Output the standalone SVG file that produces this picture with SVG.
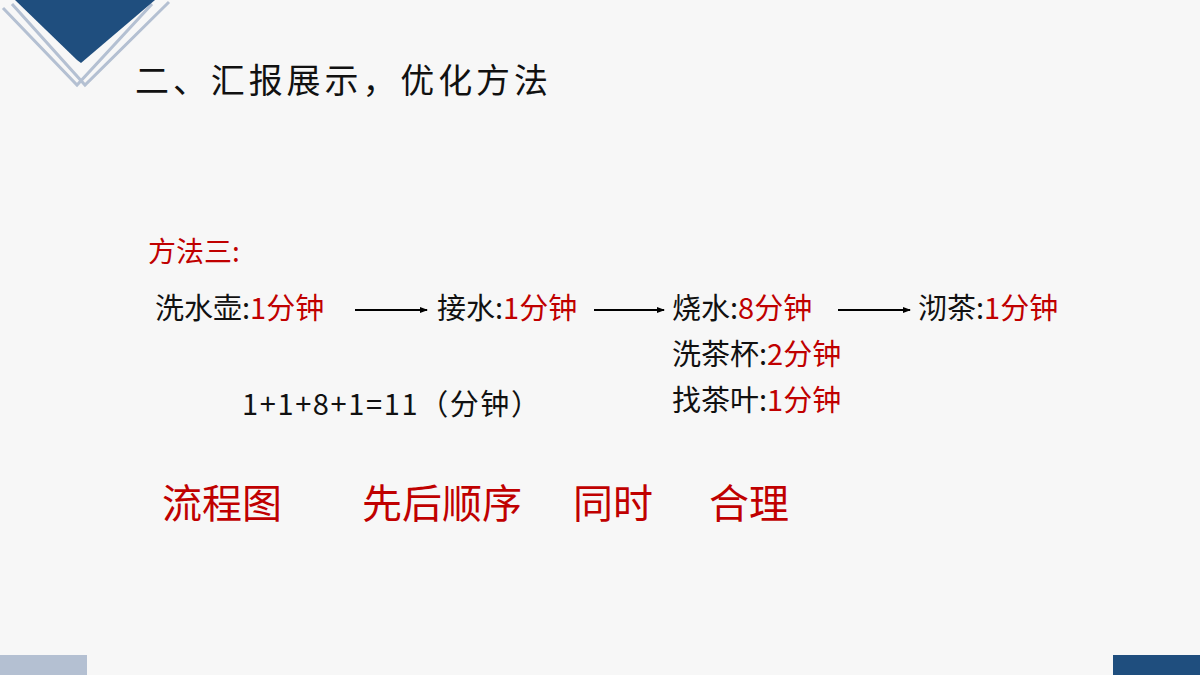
<svg xmlns="http://www.w3.org/2000/svg" width="1200" height="675" viewBox="0 0 1200 675">
<style>
text{font-family:"Noto Sans CJK SC","Liberation Sans",sans-serif;}
.k{fill:#111;font-size:29px}
.r{fill:#c00000}
.big{fill:#c00000;font-size:40px}
.ln{stroke:#b4c0d2;stroke-width:3;fill:none}
</style>
<defs><marker id="a" markerWidth="8" markerHeight="8" refX="7" refY="4" orient="auto" markerUnits="userSpaceOnUse"><path d="M0,1 L8,4 L0,7 Z" fill="#000"/></marker></defs>
<rect width="1200" height="675" fill="#f7f7f7"/>
<g id="deco">
<polyline class="ln" points="3,8 77,85 152,4"/>
<polyline class="ln" points="12,4 85,85 169,2"/>
<polygon points="15,0 155,0 81,63 77,60" fill="#1f4e7e"/>
<rect x="0" y="655" width="87" height="20" fill="#b4c0d2"/>
<rect x="1113" y="655" width="87" height="20" fill="#1f4e7e"/>
</g>
<text x="135" y="93" font-size="34" fill="#111" textLength="413" lengthAdjust="spacing">二、汇报展示，优化方法</text>
<text x="148" y="262" class="r" font-size="28">方法三:</text>
<g id="n1"><text x="155" y="319" class="k">洗水壶:<tspan class="r">1分钟</tspan></text></g>
<g id="n2"><text x="437" y="319" class="k">接水:<tspan class="r">1分钟</tspan></text></g>
<g id="n3"><text x="672" y="319" class="k">烧水:<tspan class="r">8分钟</tspan></text>
<text x="672" y="365" class="k">洗茶杯:<tspan class="r">2分钟</tspan></text>
<text x="672" y="411" class="k">找茶叶:<tspan class="r">1分钟</tspan></text></g>
<g id="n4"><text x="918" y="319" class="k">沏茶:<tspan class="r">1分钟</tspan></text></g>
<g id="conn" stroke="#000" stroke-width="2" marker-end="url(#a)">
<line x1="355" y1="310" x2="427" y2="310"/>
<line x1="594" y1="310" x2="664" y2="310"/>
<line x1="838" y1="310" x2="910" y2="310"/>
</g>
<text x="242" y="415" class="k" textLength="298" lengthAdjust="spacing">1+1+8+1=11（分钟）</text>
<text x="162" y="518" class="big">流程图</text>
<text x="362" y="518" class="big">先后顺序</text>
<text x="573" y="518" class="big">同时</text>
<text x="709" y="518" class="big">合理</text>
</svg>
